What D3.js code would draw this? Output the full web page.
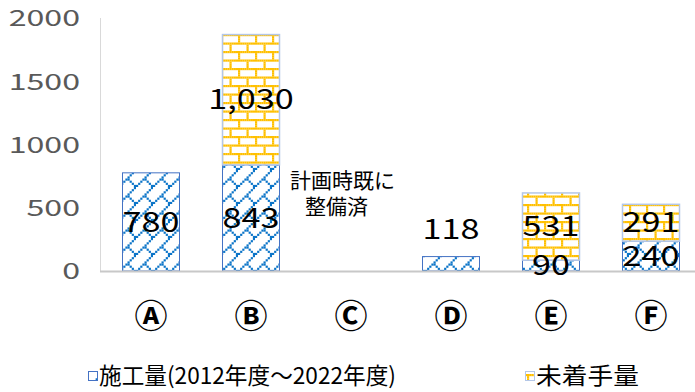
<!DOCTYPE html>
<html>
<head>
<meta charset="utf-8">
<script src="https://cdn.jsdelivr.net/npm/d3@7/dist/d3.min.js"></script>
<style>
  html, body { margin: 0; padding: 0; background: #fff; }
  svg { display: block; }
</style>
</head>
<body>
<svg id="chart" width="695" height="392"></svg>
<script>
// 区間別の施工量と未着手量
const categories = ["Ⓐ", "Ⓑ", "Ⓒ", "Ⓓ", "Ⓔ", "Ⓕ"];
const constructed = [780, 843, 0, 118, 90, 240];   // 施工量(2012年度～2022年度)
const notStarted  = [0, 1030, 0, 0, 531, 291];     // 未着手量
const yTicks = [0, 500, 1000, 1500, 2000];
const seriesNames = ["施工量(2012年度～2022年度)", "未着手量"];
const note = ["計画時既に", "整備済"];

const svg = d3.select("#chart");
const FONT = "'Noto Sans CJK JP', 'Noto Sans', sans-serif";

const x = d3.scaleBand().domain(categories).range([101, 701])
  .paddingInner(0.42).paddingOuter(0.21);
const y = d3.scaleLinear().domain([0, 2000]).range([271, 18]);

// ---- hatch patterns (8x8 bitmaps, drawn enlarged) ----
const defs = svg.append("defs");
function bitmapPattern(id, rows, color, tile) {
  const u = tile / 8;
  const p = defs.append("pattern").attr("id", id)
    .attr("patternUnits", "userSpaceOnUse")
    .attr("width", tile).attr("height", tile);
  p.append("rect").attr("width", tile).attr("height", tile).attr("fill", "#fff");
  rows.forEach((bits, r) => {
    for (let c = 0; c < 8; c++) {
      if (bits & (0x80 >> c)) {
        p.append("rect").attr("x", c * u).attr("y", r * u)
          .attr("width", u + 0.05).attr("height", u + 0.05).attr("fill", color);
      }
    }
  });
}
// diagonal brick for 施工量, horizontal brick for 未着手量
bitmapPattern("diagBrick", [0x01, 0x02, 0x04, 0x08, 0x18, 0x24, 0x42, 0x81], "#0a74c8", 17);
bitmapPattern("brick", [0xff, 0x80, 0x80, 0x80, 0xff, 0x08, 0x08, 0x08], "#ffc000", 17);

// ---- axes ----
svg.append("line").attr("x1", 100.5).attr("x2", 100.5)
  .attr("y1", y(2000)).attr("y2", y(0))
  .attr("stroke", "#d9d9d9").attr("stroke-width", 1);

const yAxis = svg.append("g").attr("transform", "translate(100,0)")
  .call(d3.axisLeft(y).tickValues(yTicks).tickSize(0).tickPadding(20).tickFormat(d3.format("d")));
yAxis.select(".domain").remove();
yAxis.selectAll("text")
  .attr("font-family", FONT).attr("font-size", 22).attr("fill", "#595959")
  .attr("dy", "0.36em");

// ---- bars ----
const stackData = categories.map((c, i) => ({ cat: c, a: constructed[i], b: notStarted[i] }));

svg.append("g").selectAll("rect").data(stackData.filter(d => d.a > 0)).join("rect")
  .attr("x", d => x(d.cat) + 0.5).attr("width", x.bandwidth() - 1)
  .attr("y", d => y(d.a) + 0.5).attr("height", d => y(0) - y(d.a) - 0.5)
  .attr("fill", "url(#diagBrick)").attr("stroke", "#4472c4").attr("stroke-width", 1);

svg.append("g").selectAll("rect").data(stackData.filter(d => d.b > 0)).join("rect")
  .attr("x", d => x(d.cat) + 0.5).attr("width", x.bandwidth() - 1)
  .attr("y", d => y(d.a + d.b) + 0.5).attr("height", d => y(d.a) - y(d.a + d.b))
  .attr("fill", "url(#brick)").attr("stroke", "#b4c7e7").attr("stroke-width", 1.5);

// baseline
svg.append("line").attr("x1", 100).attr("x2", 695)
  .attr("y1", y(0) + 0.5).attr("y2", y(0) + 0.5)
  .attr("stroke", "#c8c8c8").attr("stroke-width", 2);

// ---- value labels ----
const fmt = d3.format(",");
const labels = [];
stackData.forEach(d => {
  if (d.a > 0) {
    // short segment: label sits above the bar
    const cy = (d.b === 0 && d.a < 200) ? y(d.a) - 27 : (y(0) + y(d.a)) / 2;
    labels.push({ cat: d.cat, v: d.a, cy });
  }
  if (d.b > 0) labels.push({ cat: d.cat, v: d.b, cy: (y(d.a) + y(d.a + d.b)) / 2 });
});
svg.append("g").selectAll("text").data(labels).join("text")
  .attr("class", "vlabel")
  .attr("x", d => x(d.cat) + x.bandwidth() / 2).attr("y", d => d.cy)
  .attr("dy", "0.36em").attr("text-anchor", "middle")
  .attr("font-family", FONT).attr("font-size", 28).attr("fill", "#000")
  .text(d => fmt(d.v));

// ---- category labels ----
svg.append("g").selectAll("text").data(categories).join("text")
  .attr("x", d => x(d) + x.bandwidth() / 2).attr("y", 316)
  .attr("dy", "0.36em").attr("text-anchor", "middle")
  .attr("font-family", FONT).attr("font-size", 33).attr("font-weight", 700)
  .attr("fill", "#000").text(d => d);

// ---- note for Ⓒ ----
svg.append("text").attr("x", 290).attr("y", 180).attr("dy", "0.36em")
  .attr("font-family", FONT).attr("font-size", 21).attr("fill", "#000").text(note[0]);
svg.append("text").attr("x", 305).attr("y", 206).attr("dy", "0.36em")
  .attr("font-family", FONT).attr("font-size", 21).attr("fill", "#000").text(note[1]);

// ---- legend ----
const legendItems = [
  { name: seriesNames[0], fill: "url(#diagBrick)", stroke: "#4472c4", x: 88, w: 297 },
  { name: seriesNames[1], fill: "url(#brick)", stroke: "#b4c7e7", x: 525, w: 103 }
];
const lg = svg.append("g").selectAll("g").data(legendItems).join("g");
lg.append("rect").attr("x", d => d.x + 0.5).attr("y", 371.5).attr("width", 9).attr("height", 9)
  .attr("fill", d => d.fill).attr("stroke", d => d.stroke).attr("stroke-width", 1);
lg.append("text").attr("x", d => d.x + 11).attr("y", 376).attr("dy", "0.36em")
  .attr("font-family", FONT).attr("font-size", 23).attr("fill", "#000")
  .attr("textLength", d => d.w).attr("lengthAdjust", "spacingAndGlyphs")
  .text(d => d.name);

// digits in this chart are set wide; stretch numeric labels horizontally
function widen(sel, k) {
  sel.each(function () {
    const w = this.getComputedTextLength();
    d3.select(this).attr("textLength", w * k).attr("lengthAdjust", "spacingAndGlyphs");
  });
}
widen(svg.selectAll(".vlabel"), 1.22);
widen(yAxis.selectAll("text"), 1.46);
</script>
</body>
</html>
